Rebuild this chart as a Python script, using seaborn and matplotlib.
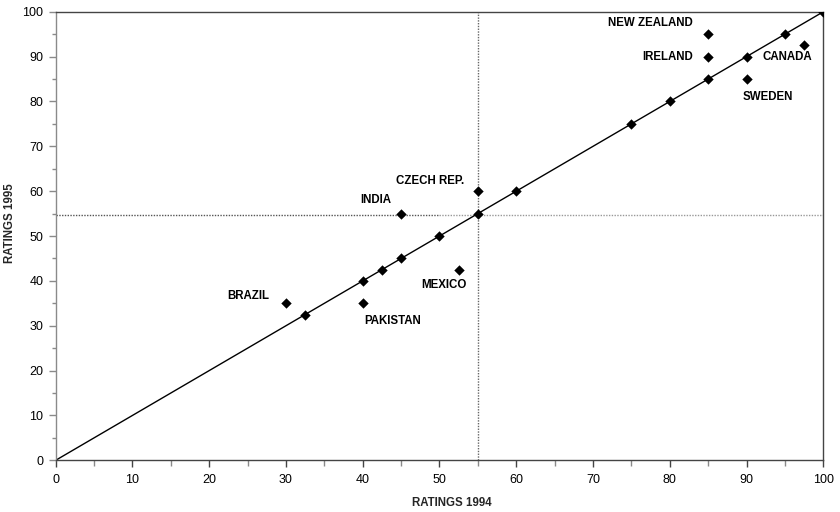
import matplotlib
matplotlib.use("Agg")
import matplotlib.pyplot as plt
from matplotlib.ticker import MultipleLocator
import seaborn as sns
import pandas as pd

# Data
ratings_1994 = [30, 32.5, 40, 40, 42.5, 45, 45, 50, 52.5, 55, 55, 60, 75, 80, 85, 85, 85, 90, 90, 95, 97.5, 100]
ratings_1995 = [35, 32.5, 35, 40, 42.5, 45, 55, 50, 42.5, 55, 60, 60, 75, 80, 85, 90, 95, 85, 90, 95, 92.5, 100]
countries = ["BRAZIL", "", "PAKISTAN", "", "", "", "INDIA", "", "MEXICO", "", "CZECH REP.", "", "", "", "",
             "IRELAND", "NEW ZEALAND", "SWEDEN", "", "", "CANADA", ""]
diag = [0, 100]
mean_1994 = 55
mean_1995 = 54.8
ticks = [0, 10, 20, 30, 40, 50, 60, 70, 80, 90, 100]

# label offsets in points (dx, dy, ha)
label_style = {
    "NEW ZEALAND": (-11, 8, "right"),
    "IRELAND": (-11, 0, "right"),
    "CANADA": (-30, -8, "left"),
    "SWEDEN": (-3, -13, "left"),
    "CZECH REP.": (-10, 7, "right"),
    "INDIA": (-7, 10, "right"),
    "BRAZIL": (-12, 5, "right"),
    "PAKISTAN": (1, -13, "left"),
    "MEXICO": (6, -11, "right"),
}

df = pd.DataFrame({"r94": ratings_1994, "r95": ratings_1995, "country": countries})

sns.set_theme(style="white")
plt.rcParams["font.family"] = ["Liberation Sans", "DejaVu Sans"]

fig = plt.figure(figsize=(8.4, 5.12), dpi=100)
ax = fig.add_axes([0.0663, 0.101, 0.9138, 0.876])

dark_col = "#444444"
light_col = "#8a8a8a"
ax.plot(diag, diag, color="black", lw=1.0, zorder=2)
ax.axvline(mean_1994, color="#666666", lw=1.0, ls=(0, (1, 1)), zorder=1)
ax.hlines(mean_1995, 0, 50, color="#555555", lw=1.0, ls=(0, (1, 1)), zorder=1)
ax.hlines(mean_1995, 50, 100, color="#999999", lw=1.0, ls=(0, (1, 1)), zorder=1)

sns.scatterplot(data=df, x="r94", y="r95", marker="D", s=28, color="black",
                edgecolor="black", linewidth=0, ax=ax, zorder=3)

for _, row in df.iterrows():
    if row["country"]:
        dx, dy, ha = label_style[row["country"]]
        ax.annotate(row["country"], (row["r94"], row["r95"]), xytext=(dx, dy),
                    textcoords="offset points", ha=ha, va="center",
                    fontsize=8.3, fontweight="bold", color="black")

ax.set_xlim(0, 100)
ax.set_ylim(0, 100)
ax.set_xticks(ticks)
ax.set_yticks(ticks)
ax.xaxis.set_minor_locator(MultipleLocator(5))
ax.yaxis.set_minor_locator(MultipleLocator(5))
ax.tick_params(axis="x", which="major", direction="out", length=5, width=1,
               color=dark_col, labelsize=9, labelcolor="black", pad=5, bottom=True)
ax.tick_params(axis="x", which="minor", direction="out", length=4, width=1,
               color=light_col, bottom=True)
ax.tick_params(axis="y", which="major", direction="out", length=5, width=1,
               color=light_col, labelsize=9, labelcolor="black", pad=4, left=True)
ax.tick_params(axis="y", which="minor", direction="out", length=3, width=1,
               color=light_col, left=True)
for name, sp in ax.spines.items():
    sp.set_color(light_col if name == "left" else dark_col)
    sp.set_linewidth(1.0)
    sp.set_visible(True)
ax.grid(False)

ax.set_xlabel("RATINGS 1994", fontsize=8.3, fontweight="bold")
ax.set_ylabel("RATINGS 1995", fontsize=8.3, fontweight="bold")
ax.xaxis.set_label_coords(0.516, -0.082)
ax.yaxis.set_label_coords(-0.052, 0.528)

fig.savefig("out.png", dpi=100)
